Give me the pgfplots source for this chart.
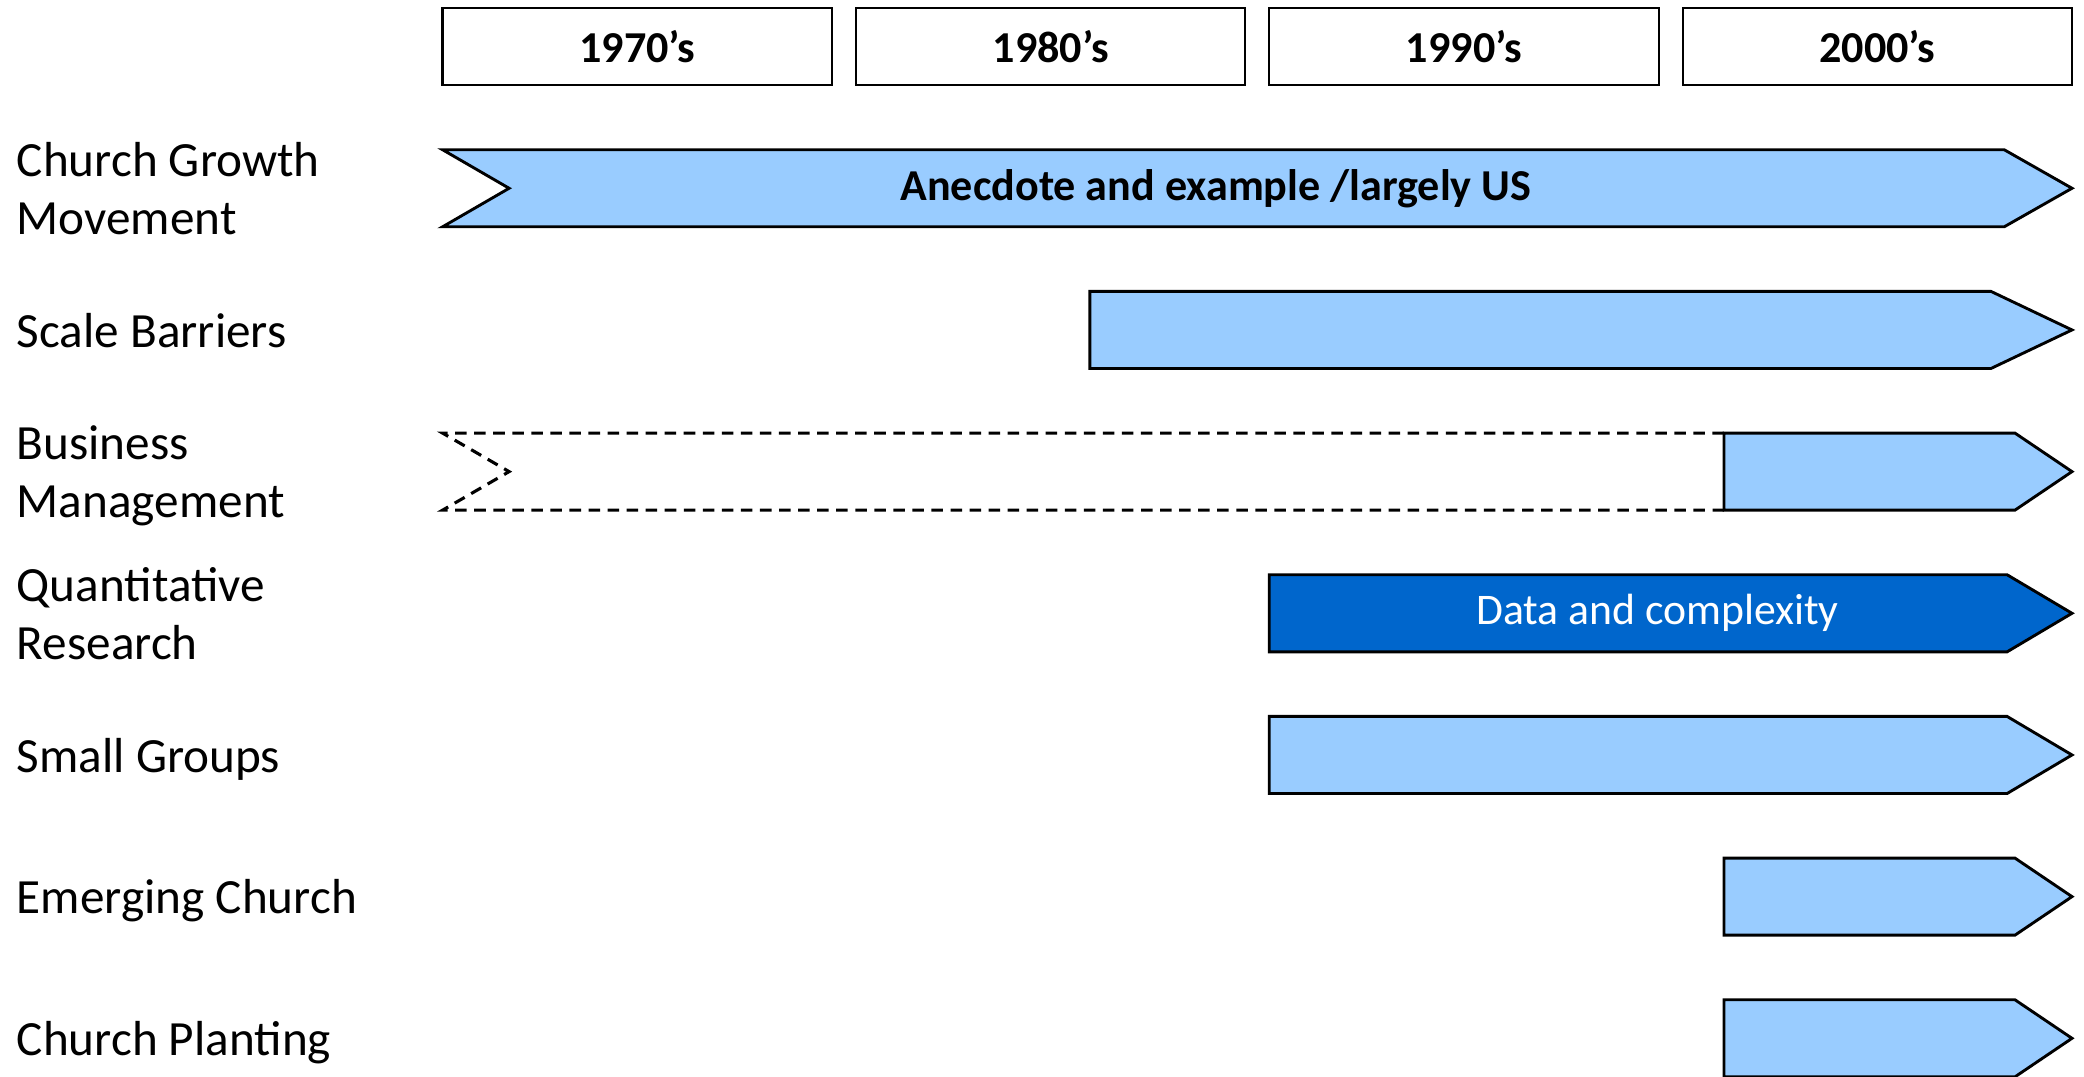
\documentclass[border=0pt]{standalone}
\usepackage{fontspec}
\setmainfont{Carlito}
\usepackage{pgfplots}
\pgfplotsset{compat=1.18}
\definecolor{lightbar}{HTML}{99CCFF}
\definecolor{darkbar}{HTML}{0066CC}
\begin{document}
\begin{tikzpicture}
\useasboundingbox (0,0) rectangle (470.4bp,243bp);
\begin{axis}[
  at={(0,0)}, anchor=south west,
  width=470.4bp, height=243bp, scale only axis,
  hide axis, clip=false,
  xmin=1959.293, xmax=2009.711,
  ymin=-0.329, ymax=7.27, y dir=reverse,
  every axis plot/.append style={mark=none, line join=miter, line width=0.65bp, draw=black},
]
% decade header boxes
\addplot[fill=white, line width=0.5bp] coordinates {(1970,-0.272) (1979.42,-0.272) (1979.42,0.272) (1970,0.272)} -- cycle;
\addplot[fill=white, line width=0.5bp] coordinates {(1980,-0.272) (1989.42,-0.272) (1989.42,0.272) (1980,0.272)} -- cycle;
\addplot[fill=white, line width=0.5bp] coordinates {(1990,-0.272) (1999.42,-0.272) (1999.42,0.272) (1990,0.272)} -- cycle;
\addplot[fill=white, line width=0.5bp] coordinates {(2000,-0.272) (2009.42,-0.272) (2009.42,0.272) (2000,0.272)} -- cycle;
% row 1 Church Growth Movement
\addplot[fill=lightbar] coordinates {(1970,0.728) (2007.78,0.728) (2009.42,1) (2007.78,1.272) (1970,1.272) (1971.61,1)} -- cycle;
% row 2 Scale Barriers
\addplot[fill=lightbar] coordinates {(1985.66,1.728) (2007.46,1.728) (2009.42,2) (2007.46,2.272) (1985.66,2.272)} -- cycle;
% row 3 Business Management
\addplot[line width=0.7bp, dash pattern=on 2.6bp off 1.7bp] coordinates {(2001,2.728) (1970,2.728) (1971.61,3) (1970,3.272) (2001,3.272)};
\addplot[fill=lightbar] coordinates {(2001,2.728) (2008.04,2.728) (2009.42,3) (2008.04,3.272) (2001,3.272)} -- cycle;
% row 4 Quantitative Research
\addplot[fill=darkbar] coordinates {(1990,3.728) (2007.85,3.728) (2009.42,4) (2007.85,4.272) (1990,4.272)} -- cycle;
% row 5 Small Groups
\addplot[fill=lightbar] coordinates {(1990,4.728) (2007.85,4.728) (2009.42,5) (2007.85,5.272) (1990,5.272)} -- cycle;
% row 6 Emerging Church
\addplot[fill=lightbar] coordinates {(2001,5.728) (2008.04,5.728) (2009.42,6) (2008.04,6.272) (2001,6.272)} -- cycle;
% row 7 Church Planting
\addplot[fill=lightbar] coordinates {(2001,6.728) (2008.04,6.728) (2009.42,7) (2008.04,7.272) (2001,7.272)} -- cycle;

% header texts
\begin{scope}[every node/.style={font=\bfseries\fontsize{10}{12}\selectfont, inner sep=0}]
\node at (axis cs:1974.71,0) {1970’s};
\node at (axis cs:1984.71,0) {1980’s};
\node at (axis cs:1994.71,0) {1990’s};
\node at (axis cs:2004.71,0) {2000’s};
\node at (axis cs:1988.71,1) {Anecdote and example /largely US};
\end{scope}
\node[font=\fontsize{9.9}{12}\selectfont, text=white, inner sep=0] at (axis cs:1999.39,4) {Data and complexity};

% row labels
\begin{scope}[every node/.style={anchor=west, align=left, inner sep=0, text depth=0pt, font=\fontsize{11.15}{13.2}\selectfont}]
\node at (axis cs:1959.68,1) {Church Growth\\Movement};
\node at (axis cs:1959.68,2) {Scale Barriers};
\node at (axis cs:1959.68,3) {Business\\Management};
\node at (axis cs:1959.68,4) {Quantitative\\Research};
\node at (axis cs:1959.68,5) {Small Groups};
\node at (axis cs:1959.68,6) {Emerging Church};
\node at (axis cs:1959.68,7) {Church Planting};
\end{scope}
\end{axis}
\end{tikzpicture}
\end{document}
